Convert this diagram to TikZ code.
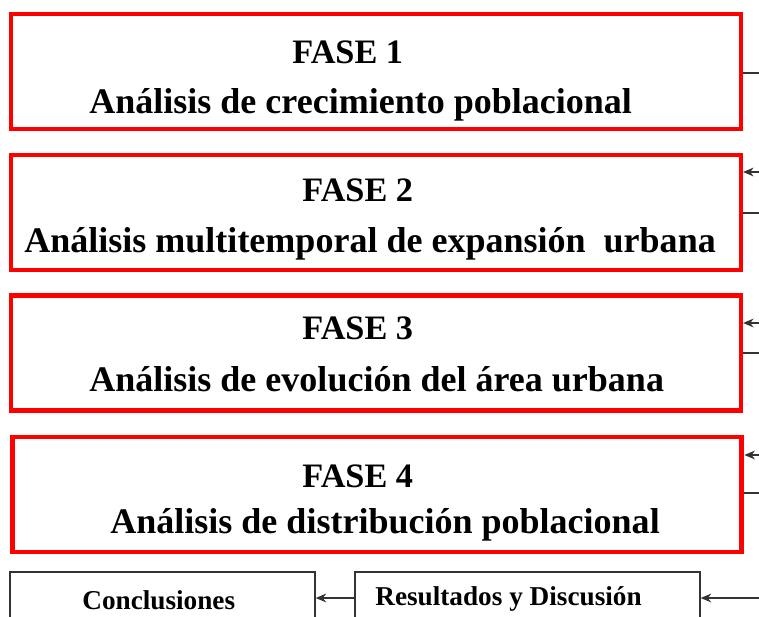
\documentclass[tikz,border=0pt]{standalone}
\usepackage{fontspec}
\setmainfont{Liberation Serif}
\usetikzlibrary{arrows.meta}

\tikzset{
    fase/.style={draw=red, line width=2.4pt, minimum width=14.6cm, minimum height=2.3cm},
    titulo/.style={anchor=base west, inner sep=0pt, font=\fontsize{19.5}{23}\selectfont\bfseries},
    texto/.style={anchor=base west, inner sep=0pt, font=\fontsize{20.5}{24}\selectfont\bfseries},
    caja/.style={draw=black!80, line width=0.8pt},
    cajatxt/.style={anchor=base west, inner sep=0pt, font=\fontsize{15.5}{18}\selectfont\bfseries},
    flecha/.style={-{Stealth[length=6pt,width=5pt]}, black!80, line width=0.8pt},
    linea/.style={black!80, line width=0.8pt}
}

\begin{document}
\begin{tikzpicture}[x=0.02cm, y=-0.02cm]
    \useasboundingbox (0,0) rectangle (759,617);
    \clip (0,0) rectangle (759,617);

    % Phases
    \node[fase] (fase1) at (376,71.5) {};
    \node[fase] (fase2) at (376,212.5) {};
    \node[fase] (fase3) at (376,353) {};
    \node[fase, line width=2.8pt] (fase4) at (377,494.5) {};

    \node[titulo] (t1) at (292,64) {FASE 1};
    \node[texto] (l1) at (89,114) {An\'alisis de crecimiento poblacional};
    \node[titulo] (t2) at (302,202) {FASE 2};
    \node[texto] (l2) at (24,253) {An\'alisis multitemporal de expansi\'on\ \ urbana};
    \node[titulo] (t3) at (302,340) {FASE 3};
    \node[texto] (l3) at (89,391) {An\'alisis de evoluci\'on del \'area urbana};
    \node[titulo] (t4) at (302,487) {FASE 4};
    \node[texto] (l4) at (110,533) {An\'alisis de distribuci\'on poblacional};

    % Bottom boxes (cut by the page edge)
    \node[caja, minimum width=6.1cm, minimum height=1.12cm] (concl) at (162.5,600) {};
    \node[caja, minimum width=6.9cm, minimum height=0.96cm] (result) at (527.5,596) {};
    \node[cajatxt] (c1) at (82,609) {Conclusiones};
    \node[cajatxt] (r1) at (375,605) {Resultados y Discusi\'on};

    % Right side connectors
    \coordinate (s1) at (759,73);
    \coordinate (e2) at (759,172);
    \coordinate (s2) at (759,213);
    \coordinate (e3) at (759,323);
    \coordinate (s3) at (759,353);
    \coordinate (e4) at (759,455);
    \coordinate (s4) at (759,493);
    \coordinate (e5) at (759,598);

    \draw[linea] (fase1.east |- s1) -- (s1);
    \draw[flecha] (e2) -- (fase2.east |- e2);
    \draw[linea] (fase2.east |- s2) -- (s2);
    \draw[flecha] (e3) -- (fase3.east |- e3);
    \draw[linea] (fase3.east |- s3) -- (s3);
    \draw[flecha] (e4) -- (fase4.east |- e4);
    \draw[linea] (fase4.east |- s4) -- (s4);

    \draw[flecha] (e5) -- (result.east |- e5);
    \draw[flecha] (result.west |- e5) -- (concl.east |- e5);
\end{tikzpicture}
\end{document}
